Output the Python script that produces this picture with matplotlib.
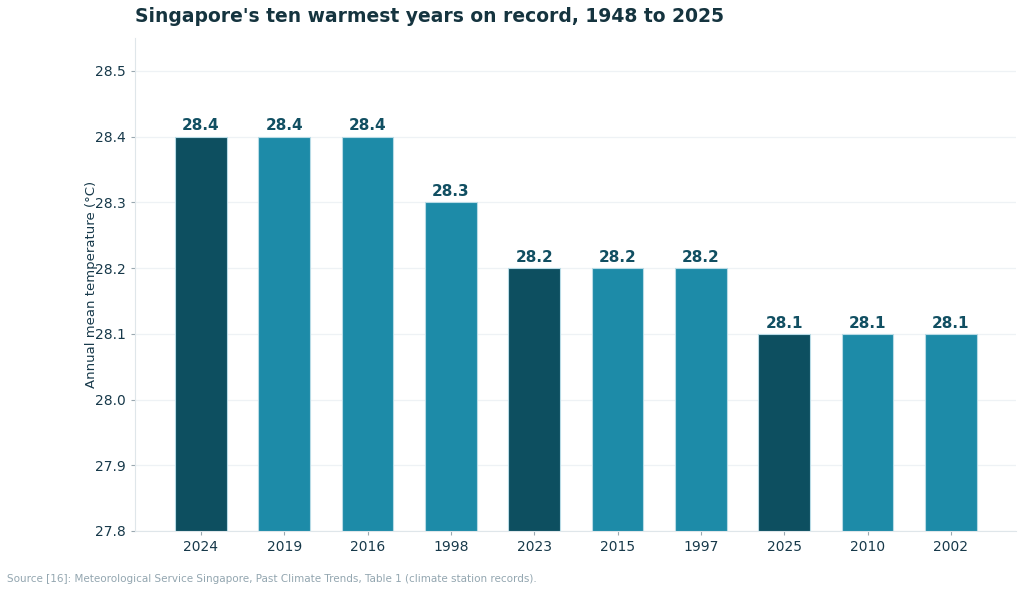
import matplotlib.pyplot as plt
import numpy as np

years = ['2024', '2019', '2016', '1998', '2023', '2015', '1997', '2025', '2010', '2002']
temps = [28.4, 28.4, 28.4, 28.3, 28.2, 28.2, 28.2, 28.1, 28.1, 28.1]
recent = ['2023', '2024', '2025']

dark = '#0d4f60'
light = '#1d8ba8'
txt = '#17394a'

plt.rcParams['font.family'] = 'DejaVu Sans'
fig = plt.figure(figsize=(10.24, 5.92), dpi=100)
ax = fig.add_axes([135 / 1024, 61 / 592, 881 / 1024, 493 / 592])

x = np.arange(len(years))
colors = [dark if y in recent else light for y in years]
bars = ax.bar(x, np.array(temps) - 27.8, bottom=27.8, width=0.62, color=colors,
              edgecolor='#b8dbe6', linewidth=0.8, zorder=3)

for xi, t in zip(x, temps):
    ax.text(xi, t + 0.005, f'{t:.1f}', ha='center', va='bottom', fontsize=11,
            fontweight='bold', color='#114f62')

ax.set_xticks(x)
ax.set_xticklabels(years)
ax.set_xlim(-0.79, 9.78)
ax.set_ylim(27.8, 28.55)
ax.set_yticks([27.8, 27.9, 28.0, 28.1, 28.2, 28.3, 28.4, 28.5])
ax.set_yticklabels([f'{v:.1f}' for v in [27.8, 27.9, 28.0, 28.1, 28.2, 28.3, 28.4, 28.5]])
ax.grid(axis='y', color='#eef2f5', linewidth=0.9, zorder=0)
ax.set_axisbelow(True)
for s in ['top', 'right']:
    ax.spines[s].set_visible(False)
for s in ['left', 'bottom']:
    ax.spines[s].set_color('#dfe6ea')
    ax.spines[s].set_linewidth(0.8)
ax.tick_params(axis='both', colors='#9aa8b0', labelcolor=txt, labelsize=10, length=3)
ax.set_ylabel('Annual mean temperature (°C)', fontsize=9.5, color=txt, labelpad=-2)

fig.text(135 / 1024, 1 - 16 / 592, "Singapore's ten warmest years on record, 1948 to 2025",
         fontsize=13.5, fontweight='bold', color='#15343f', ha='left', va='center')
fig.text(7 / 1024, 1 - 579 / 592,
         'Source [16]: Meteorological Service Singapore, Past Climate Trends, Table 1 (climate station records).',
         fontsize=7.5, color='#93a6b0', ha='left', va='center')

fig.savefig('out.png', dpi=100)
